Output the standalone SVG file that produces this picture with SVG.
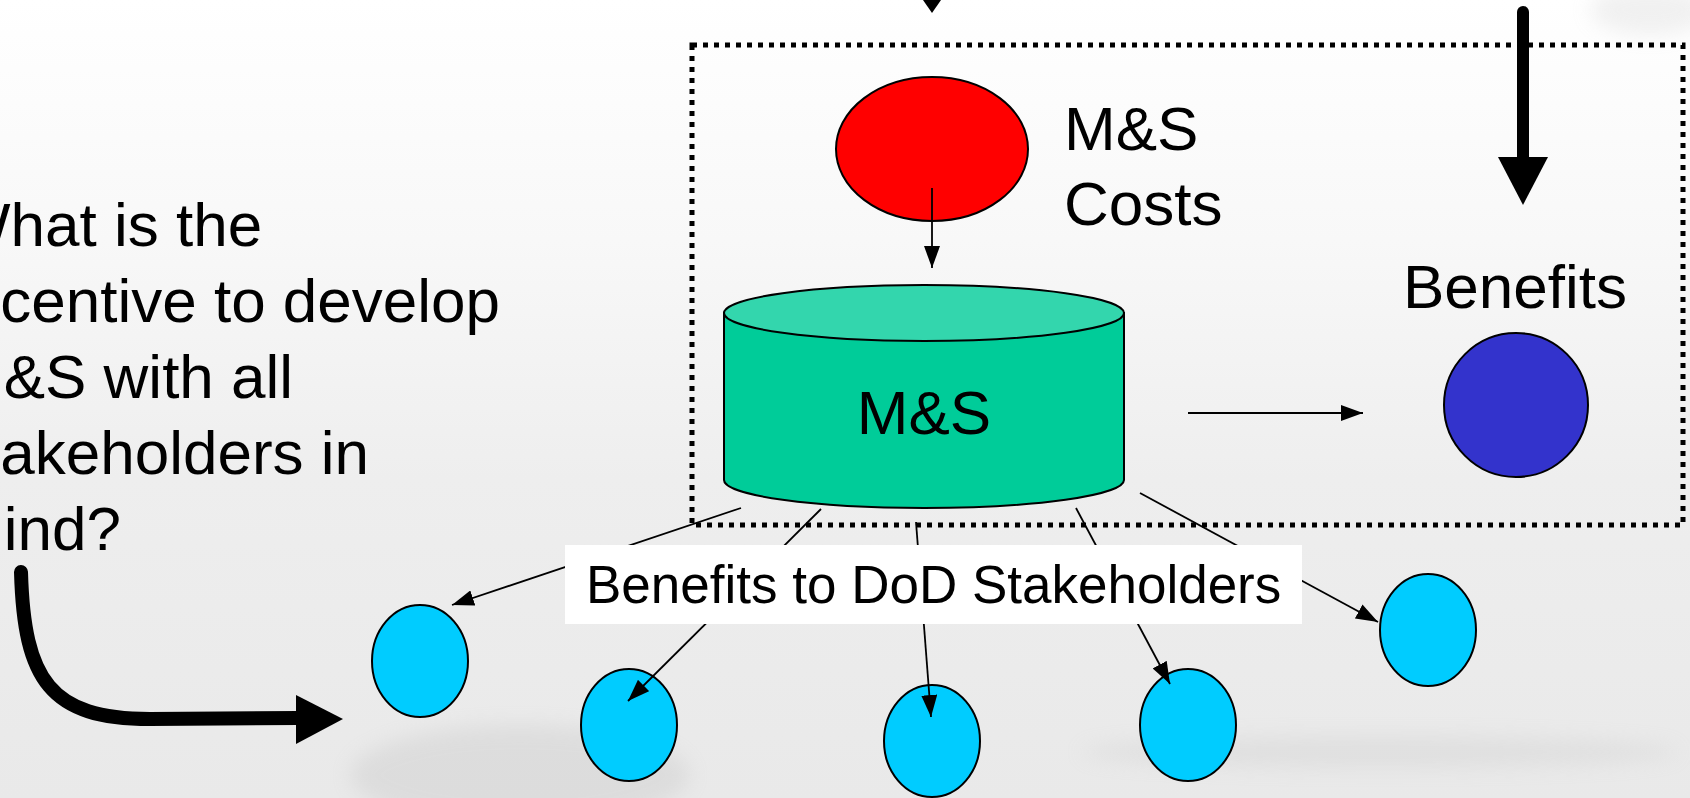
<svg xmlns="http://www.w3.org/2000/svg" width="1690" height="798" viewBox="0 0 1690 798">
  <defs>
    <linearGradient id="bg" x1="0" y1="0" x2="0" y2="1">
      <stop offset="0" stop-color="#ffffff"/>
      <stop offset="0.3" stop-color="#f8f8f8"/>
      <stop offset="0.6" stop-color="#eeeeee"/>
      <stop offset="1" stop-color="#e9e9e9"/>
    </linearGradient>
    <filter id="blur" x="-20%" y="-20%" width="140%" height="140%">
      <feGaussianBlur stdDeviation="10"/>
    </filter>
    <marker id="ah" markerUnits="userSpaceOnUse" markerWidth="22" markerHeight="16" refX="22" refY="8" orient="auto">
      <path d="M0,0 L22,8 L0,16 z" fill="#000"/>
    </marker>
    <style>
      .t { font-family: "Liberation Sans", Arial, sans-serif; fill: #000; }
      .big { font-size: 62px; }
      .lbl { font-size: 53px; }
      .edge { stroke: #000; stroke-width: 1.8; fill: none; marker-end: url(#ah); }
      .cyan { fill: #00ccff; stroke: #000; stroke-width: 2; }
    </style>
  </defs>

  <!-- background -->
  <rect x="0" y="0" width="1690" height="798" fill="url(#bg)"/>
  <g filter="url(#blur)" opacity="0.22">
    <ellipse cx="520" cy="775" rx="170" ry="50" fill="#b0b0b0"/>
    <ellipse cx="1380" cy="752" rx="300" ry="16" fill="#bcbcbc"/>
    <ellipse cx="1650" cy="10" rx="60" ry="25" fill="#c0c0c0"/>
  </g>

  <!-- dotted boundary -->
  <rect id="boundary" x="692" y="45" width="991" height="480" fill="none" stroke="#000" stroke-width="5" stroke-dasharray="5 6"/>

  <!-- left question text -->
  <g id="question" class="t big">
    <text x="-48" y="246">What is the</text>
    <text x="-48" y="322">incentive to develop</text>
    <text x="-48" y="398">M&amp;S with all</text>
    <text x="-48" y="474">stakeholders in</text>
    <text x="-48" y="550">mind?</text>
  </g>

  <!-- nodes -->
  <g id="ms-costs">
    <ellipse cx="932" cy="149" rx="96" ry="72" fill="#ff0000" stroke="#000" stroke-width="2"/>
    <text class="t big" x="1064" y="150">M&amp;S</text>
    <text class="t big" x="1064" y="225">Costs</text>
  </g>

  <g id="ms">
    <path d="M724,313 L724,480 A200,28 0 0 0 1124,480 L1124,313 Z" fill="#00cc99" stroke="#000" stroke-width="2"/>
    <ellipse cx="924" cy="313" rx="200" ry="28" fill="#33d6ad" stroke="#000" stroke-width="2"/>
    <text class="t big" x="924" y="434" text-anchor="middle">M&amp;S</text>
  </g>

  <g id="benefits">
    <text class="t big" x="1403" y="308">Benefits</text>
    <ellipse cx="1516" cy="405" rx="72" ry="72" fill="#3333cc" stroke="#000" stroke-width="2"/>
  </g>

  <g id="stakeholder1"><ellipse class="cyan" cx="420" cy="661" rx="48" ry="56"/></g>
  <g id="stakeholder2"><ellipse class="cyan" cx="629" cy="725" rx="48" ry="56"/></g>
  <g id="stakeholder3"><ellipse class="cyan" cx="932" cy="741" rx="48" ry="56"/></g>
  <g id="stakeholder4"><ellipse class="cyan" cx="1188" cy="725" rx="48" ry="56"/></g>
  <g id="stakeholder5"><ellipse class="cyan" cx="1428" cy="630" rx="48" ry="56"/></g>

  <!-- connectors -->
  <g id="connectors">
    <polygon points="923,0 941,0 932,13" fill="#000"/>
    <line class="edge" x1="932" y1="188" x2="932" y2="268"/>
    <line class="edge" x1="1188" y1="413" x2="1363" y2="413"/>
    <line class="edge" x1="741" y1="508" x2="452" y2="605"/>
    <line class="edge" x1="821" y1="509" x2="628" y2="701"/>
    <line class="edge" x1="916" y1="522" x2="931" y2="717"/>
    <line class="edge" x1="1076" y1="508" x2="1170" y2="684"/>
    <line class="edge" x1="1140" y1="493" x2="1378" y2="622"/>
    <!-- thick arrow into benefits -->
    <line x1="1523" y1="12" x2="1523" y2="162" stroke="#000" stroke-width="12" stroke-linecap="round"/>
    <polygon points="1498,157 1548,157 1523,205" fill="#000"/>
    <!-- thick curved arrow from question -->
    <path d="M21,572 C24,680 50,719 150,719 L298,718" fill="none" stroke="#000" stroke-width="14" stroke-linecap="round"/>
    <polygon points="296,695 343,719 296,744" fill="#000"/>
  </g>

  <!-- label -->
  <g id="label">
    <rect x="565" y="545" width="737" height="79" fill="#ffffff"/>
    <text class="t lbl" x="586" y="603">Benefits to DoD Stakeholders</text>
  </g>
</svg>
